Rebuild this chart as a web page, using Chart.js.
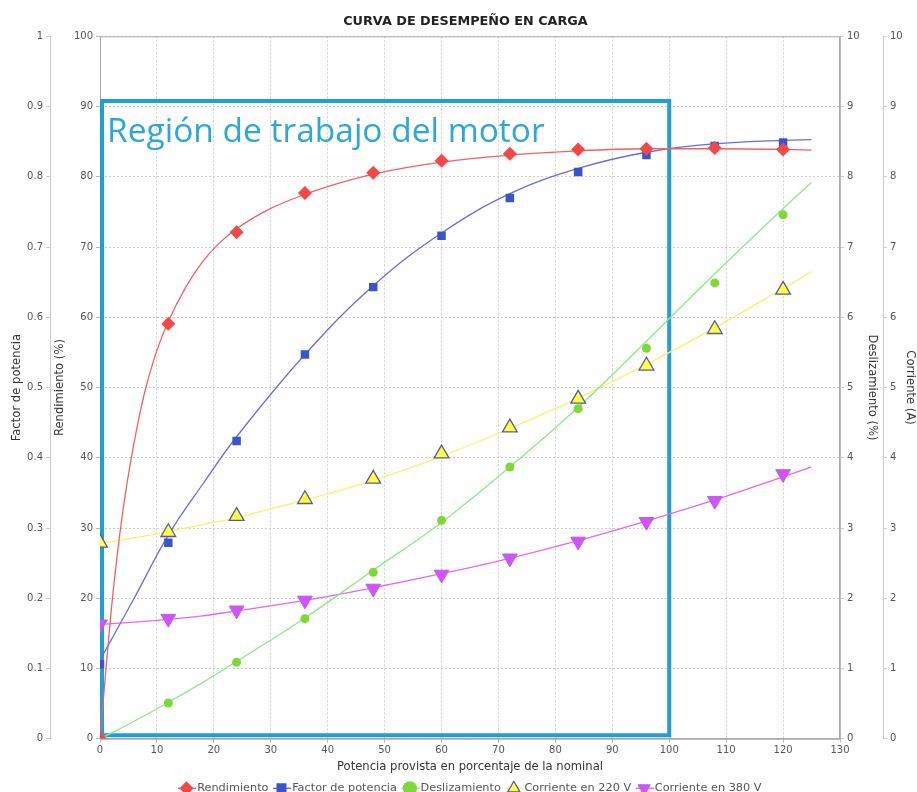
<!DOCTYPE html>
<html>
<head>
<meta charset="utf-8">
<script src="https://cdn.jsdelivr.net/npm/chart.js@4"></script>
<style>
  html, body { margin: 0; padding: 0; background: #fff; }
  #wrap { width: 917px; height: 792px; }
</style>
</head>
<body>
<div id="wrap"><canvas id="myChart"></canvas></div>
<script>
const ctx = document.getElementById('myChart');

// puntos medidos
const xCarga = [0, 12, 24, 36, 48, 60, 72, 84, 96, 108, 120];
const rendimiento = [0, 59.1, 72.1, 77.7, 80.6, 82.3, 83.3, 83.9, 84.0, 84.1, 83.9];
const factorPotencia = [0.106, 0.279, 0.424, 0.547, 0.643, 0.716, 0.770, 0.807, 0.831, 0.844, 0.849];
const deslizamiento = [0, 0.51, 1.09, 1.71, 2.37, 3.11, 3.87, 4.70, 5.56, 6.49, 7.46];
const corriente220 = [2.79, 2.94, 3.17, 3.41, 3.70, 4.06, 4.43, 4.84, 5.31, 5.83, 6.39];
const corriente380 = [1.63, 1.71, 1.83, 1.97, 2.14, 2.34, 2.57, 2.81, 3.09, 3.39, 3.77];

// curvas de ajuste
const xCurvaRend = [0, 1, 2, 3, 4, 5, 6, 7, 8, 10, 12, 15, 18, 21, 24, 30, 36, 42, 48, 60, 72, 84, 96, 108, 120, 125];
const curvaRend = [0, 9.5, 18.5, 26, 32.3, 37.6, 42.2, 46.3, 49.8, 55.3, 59.4, 64.2, 67.9, 70.6, 72.6, 75.5, 77.5, 79.1, 80.4, 82.1, 83.1, 83.7, 84.0, 84.0, 83.9, 83.8];
const xCurva = [0, 6, 12, 18, 24, 36, 48, 60, 72, 84, 96, 108, 120, 125];
const curvaFactor = [0.112, 0.2, 0.29, 0.362, 0.43, 0.547, 0.645, 0.72, 0.776, 0.812, 0.835, 0.847, 0.852, 0.853];
const curvaDesl = [0, 0.25, 0.52, 0.8, 1.1, 1.72, 2.4, 3.08, 3.87, 4.72, 5.66, 6.62, 7.55, 7.92];
const curva220 = [2.78, 2.86, 2.95, 3.05, 3.15, 3.4, 3.68, 4.02, 4.42, 4.85, 5.33, 5.85, 6.41, 6.65];
const curva380 = [1.63, 1.66, 1.7, 1.75, 1.82, 1.97, 2.15, 2.35, 2.57, 2.82, 3.1, 3.4, 3.73, 3.87];

// region de trabajo (x en %, y en escala de rendimiento)
const regionX = [0, 100];
const regionY = [0.5, 90.8];
const regionTexto = 'Región de trabajo del motor';

const xy = (xs, ys) => xs.map((x, i) => ({ x: x, y: ys[i] }));

const FONT = 'DejaVu Sans';
const gris = '#555';
const coloresLinea = ['#f46060', '#6a6ae8', '#8ee888', '#f4f46a', '#e868e8'];

const regionPlugin = {
    id: 'region',
    afterLayout(chart) {
        // titulo y leyenda centrados sobre el area del grafico, como en el original
        const t = chart.titleBlock, lg = chart.legend;
        if (t) { t.left += 7; t.right += 7; }
        if (lg) {
            lg.left += 13; lg.right += 13;
            (lg.legendHitBoxes || []).forEach(h => { h.left += 13; });
        }
    },
    beforeDraw(chart) {
        // trazo corto detras de cada simbolo de la leyenda
        const lg = chart.legend;
        if (!lg || !lg.legendHitBoxes) return;
        const c = chart.ctx;
        c.save();
        c.lineWidth = 1.5;
        lg.legendHitBoxes.forEach((hb, i) => {
            const cx = hb.left + 5.6, cy = hb.top + hb.height / 2;
            c.strokeStyle = coloresLinea[i];
            c.beginPath();
            c.moveTo(cx - 9, cy);
            c.lineTo(cx + 9, cy);
            c.stroke();
        });
        c.restore();
    },
    beforeDatasetsDraw(chart) {
        const c = chart.ctx;
        const a = chart.chartArea;
        const sx = chart.scales.x, sy = chart.scales.yRend;
        c.save();
        c.strokeStyle = '#aaa';
        c.lineWidth = 1;
        c.strokeRect(a.left + 0.5, a.top + 0.5, a.right - a.left - 1, a.bottom - a.top);
        const x1 = sx.getPixelForValue(regionX[0]), x2 = sx.getPixelForValue(regionX[1]);
        const y1 = sy.getPixelForValue(regionY[1]), y2 = sy.getPixelForValue(regionY[0]);
        c.strokeStyle = '#1f9fd8';
        c.lineWidth = 4;
        c.strokeRect(x1 + 2, y1, x2 - x1 - 2, y2 - y1);
        c.fillStyle = '#2ea6dc';
        c.font = '33.5px "Open Sans"';
        c.textBaseline = 'alphabetic';
        c.fillText(regionTexto, x1 + 7, y1 + 41);
        c.restore();
    }
};

const yTicks = { color: gris, font: { family: FONT, size: 10 }, padding: 3 };
const tituloEje = { family: FONT, size: 11.6 };

new Chart(ctx, {
    type: 'line',
    data: {
        datasets: [
            { label: 'Rendimiento', data: xy(xCarga, rendimiento), yAxisID: 'yRend', showLine: false,
              pointStyle: 'rectRot', pointRadius: 7, pointHoverRadius: 7,
              backgroundColor: '#f44848', borderColor: '#f44848', borderWidth: 0 },
            { label: 'Factor de potencia', data: xy(xCarga, factorPotencia), yAxisID: 'yFactor', showLine: false,
              pointStyle: 'rect', pointRadius: 6, pointHoverRadius: 6,
              backgroundColor: '#3a55c8', borderColor: '#3a55c8', borderWidth: 0 },
            { label: 'Deslizamiento', data: xy(xCarga, deslizamiento), yAxisID: 'yDesl', showLine: false,
              pointStyle: 'circle', pointRadius: 4.5, pointHoverRadius: 4.5,
              backgroundColor: '#80d838', borderColor: '#80d838', borderWidth: 0 },
            { label: 'Corriente en 220 V', data: xy(xCarga, corriente220), yAxisID: 'yCorr', showLine: false,
              pointStyle: 'triangle', pointRadius: 8.5, pointHoverRadius: 8.5,
              backgroundColor: '#ffff44', borderColor: '#5a5a9a', borderWidth: 1.3 },
            { label: 'Corriente en 380 V', data: xy(xCarga, corriente380), yAxisID: 'yCorr', showLine: false,
              pointStyle: 'triangle', pointRotation: 180, pointRadius: 8.5, pointHoverRadius: 8.5,
              backgroundColor: '#d452f7', borderColor: '#b060f0', borderWidth: 1 },

            { label: '_c1', data: xy(xCurvaRend, curvaRend), yAxisID: 'yRend', pointRadius: 0,
              borderColor: coloresLinea[0], borderWidth: 1.3, cubicInterpolationMode: 'monotone' },
            { label: '_c2', data: xy(xCurva, curvaFactor), yAxisID: 'yFactor', pointRadius: 0,
              borderColor: coloresLinea[1], borderWidth: 1.3, tension: 0.4 },
            { label: '_c3', data: xy(xCurva, curvaDesl), yAxisID: 'yDesl', pointRadius: 0,
              borderColor: coloresLinea[2], borderWidth: 1.3, tension: 0.4 },
            { label: '_c4', data: xy(xCurva, curva220), yAxisID: 'yCorr', pointRadius: 0,
              borderColor: coloresLinea[3], borderWidth: 1.3, tension: 0.4 },
            { label: '_c5', data: xy(xCurva, curva380), yAxisID: 'yCorr', pointRadius: 0,
              borderColor: coloresLinea[4], borderWidth: 1.3, tension: 0.4 }
        ]
    },
    options: {
        responsive: true,
        maintainAspectRatio: false,
        animation: false,
        layout: { padding: { top: 0, bottom: -12, left: 0, right: 0 } },
        plugins: {
            title: {
                display: true,
                text: 'CURVA DE DESEMPEÑO EN CARGA',
                color: '#222',
                font: { family: FONT, size: 12.8, weight: 'bold' },
                padding: { top: 14, bottom: 7 }
            },
            legend: {
                position: 'bottom',
                labels: {
                    usePointStyle: true,
                    boxWidth: 10, boxHeight: 10,
                    padding: 8,
                    color: gris,
                    font: { family: FONT, size: 11.3 },
                    filter: item => !item.text.startsWith('_')
                }
            },
            tooltip: { enabled: false }
        },
        scales: {
            x: {
                type: 'linear', min: 0, max: 130,
                ticks: { stepSize: 10, color: gris, font: { family: FONT, size: 10 }, padding: 2 },
                grid: { color: '#cfcfcf', tickLength: 4, tickColor: '#bbb' },
                border: { color: '#aaa', dash: [2, 2] },
                title: { display: true, text: 'Potencia provista en porcentaje de la nominal',
                         color: '#333', font: tituloEje, padding: { top: 1, bottom: 1 } }
            },
            yRend: {
                position: 'left', weight: 0, min: 0, max: 100,
                ticks: Object.assign({ stepSize: 10 }, yTicks),
                grid: { color: '#cfcfcf', tickLength: 4, tickColor: '#bbb' },
                border: { color: '#aaa', dash: [2, 2] },
                title: { display: true, text: 'Rendimiento (%)', color: '#333',
                         font: tituloEje, padding: { top: 3, bottom: 0 } },
                afterFit: s => { s.width = 50; }
            },
            yFactor: {
                position: 'left', weight: 1, min: 0, max: 1,
                ticks: Object.assign({ stepSize: 0.1, callback: v => String(+v.toFixed(1)) }, yTicks),
                grid: { drawOnChartArea: false, tickLength: 4, tickColor: '#ccc' },
                border: { color: '#ccc' },
                title: { display: true, text: 'Factor de potencia', color: '#333',
                         font: tituloEje, padding: { top: 10, bottom: 0 } },
                afterFit: s => { s.width = 50; }
            },
            yDesl: {
                position: 'right', weight: 0, min: 0, max: 10,
                ticks: Object.assign({ stepSize: 1 }, yTicks),
                grid: { drawOnChartArea: false, tickLength: 4, tickColor: '#ccc' },
                border: { color: '#bbb' },
                title: { display: true, text: 'Deslizamiento (%)', color: '#333',
                         font: tituloEje, padding: { top: 4, bottom: 0 } },
                afterFit: s => { s.width = 43; }
            },
            yCorr: {
                position: 'right', weight: 1, min: 0, max: 10,
                ticks: Object.assign({ stepSize: 1 }, yTicks),
                grid: { drawOnChartArea: false, tickLength: 4, tickColor: '#ccc' },
                border: { color: '#ccc' },
                title: { display: true, text: 'Corriente (A)', color: '#333',
                         font: tituloEje, padding: { top: 0, bottom: 0 } },
                afterFit: s => { s.width = 34; }
            }
        }
    },
    plugins: [regionPlugin]
});
</script>
</body>
</html>
